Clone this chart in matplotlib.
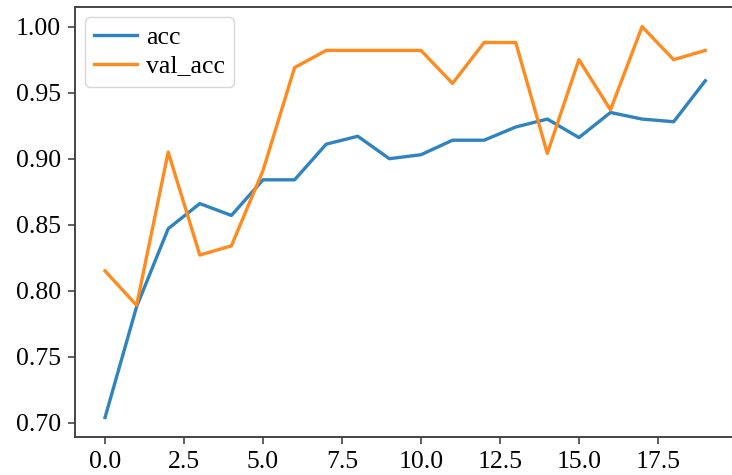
import numpy as np
import matplotlib
matplotlib.use('Agg')
import matplotlib.pyplot as plt

plt.rcParams['font.family'] = ['Liberation Serif', 'DejaVu Serif']

# Training history
epochs = list(range(20))
acc = [0.704, 0.788, 0.847, 0.866, 0.857, 0.884, 0.884, 0.911, 0.917, 0.900,
       0.903, 0.914, 0.914, 0.924, 0.930, 0.916, 0.935, 0.930, 0.928, 0.959]
val_acc = [0.815, 0.789, 0.905, 0.827, 0.834, 0.891, 0.969, 0.982, 0.982, 0.982,
           0.982, 0.957, 0.988, 0.988, 0.904, 0.975, 0.937, 1.000, 0.975, 0.982]

fig = plt.figure(figsize=(7.32, 4.75), dpi=100)
ax = fig.add_axes([0.1025, 0.080, 0.902, 0.905])
ax.plot(epochs, acc, color='#2f84c0', lw=2.4, label='acc')
ax.plot(epochs, val_acc, color='#ff8a1e', lw=2.4, label='val_acc')
ax.set_xticks(np.arange(0, 18, 2.5))
ax.set_yticks(np.arange(0.70, 1.01, 0.05))
ax.tick_params(labelsize=18.5, length=5, width=1.2, color='#444444', pad=5)
for s in ax.spines.values():
    s.set_linewidth(1.4)
    s.set_color('#444444')
ax.spines['right'].set_visible(False)
ax.legend(loc='upper left', fontsize=18.5, handlelength=1.65,
          borderaxespad=0.4, labelspacing=0.2, handletextpad=0.35,
          borderpad=0.35)
plt.savefig('out.png', dpi=100)
plt.close()
